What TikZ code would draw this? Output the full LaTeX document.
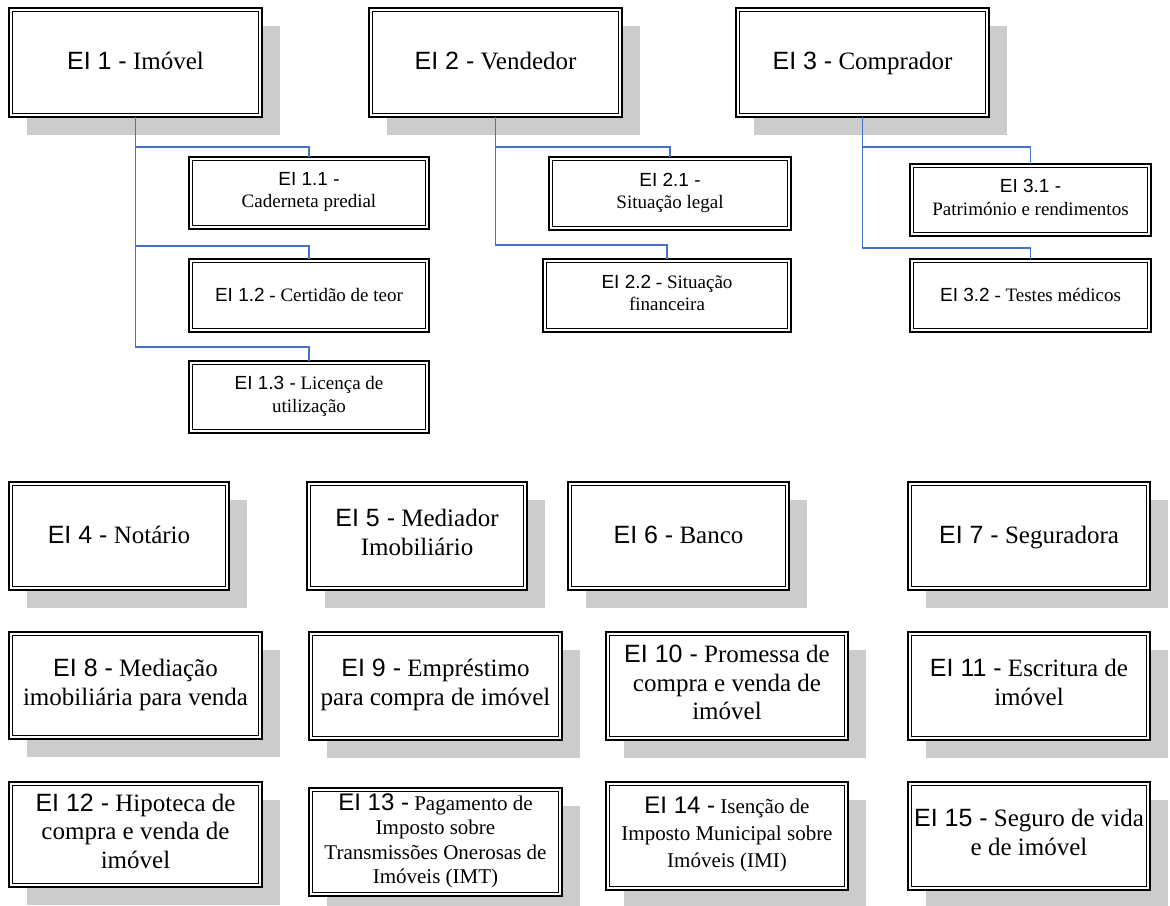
\documentclass[tikz,border=0pt]{standalone}
\usepackage{fontspec}
\setmainfont{Liberation Serif}
\newfontfamily\eisans{Liberation Sans}
\usetikzlibrary{backgrounds}

\definecolor{shadowgray}{RGB}{204,204,204}
\definecolor{linkblue}{RGB}{68,114,196}

% font sizes (1 unit = 1pt)
\newcommand\fbig{\fontsize{25}{29}\selectfont}
\newcommand\fbigthree{\fontsize{25}{28.5}\selectfont}
\newcommand\fmid{\fontsize{21}{27}\selectfont}
\newcommand\fmidtight{\fontsize{21}{24.3}\selectfont}
\newcommand\fsub{\fontsize{19}{22.5}\selectfont}
% sans entity prefix
\newcommand\ei[1]{{\eisans EI #1 -}}
\newcommand\eibig[1]{{\eisans\fontsize{24}{24.3}\selectfont EI #1 -}}
% line strut used at both ends of a box text
\newcommand\boxstrut{\rule[-0.25\baselineskip]{0pt}{\baselineskip}}
% extra depth under a last line, lifting a full text block
\newcommand\liftblock[1]{\rule[-#1]{0pt}{0pt}}

\tikzset{
  entity/.style={draw=black, line width=1.6pt, fill=white, inner sep=0pt,
    outer sep=0pt, align=center,
    execute at begin node=\boxstrut, execute at end node=\boxstrut},
  innerline/.style={draw=black, line width=0.9pt},
  shadowfill/.style={fill=shadowgray},
  link/.style={draw=linkblue, line width=1.1pt},
}

% entity box with thick-thin double border
% #1 name, #2 x1, #3 y1, #4 x2, #5 y2, #6 font, #7 text
\newcommand\entitybox[7]{%
  \node[entity, font=#6, minimum width={(#4-#2)*1pt}, minimum height={(#5-#3)*1pt}]
    (#1) at ({(#2+#4)/2},{(#3+#5)/2}) {#7};
  \draw[innerline] ([shift={(3.5pt,-3.5pt)}]#1.north west)
    rectangle ([shift={(-3.5pt,3.5pt)}]#1.south east);
}
% same box with a drop shadow behind it
\newcommand\shadowbox[7]{%
  \begin{pgfonlayer}{background}
    \fill[shadowfill] (#2+18,#3+17.5) rectangle (#4+18,#5+17.5);
  \end{pgfonlayer}
  \entitybox{#1}{#2}{#3}{#4}{#5}{#6}{#7}%
}

\begin{document}
\begin{tikzpicture}[x=1pt,y=-1pt]
\useasboundingbox (0,0) rectangle (1170,905);
\begin{pgfonlayer}{background}
  \fill[white] (0,0) rectangle (1170,905);
\end{pgfonlayer}

% main entities
\shadowbox{e1}{9}{8}{262}{117}{\fbig}{\ei{1} Imóvel}
\shadowbox{e2}{369}{8}{622}{117}{\fbig}{\ei{2} Vendedor}
\shadowbox{e3}{736}{8}{989}{117}{\fbig}{\ei{3} Comprador}

% sub-entities
\entitybox{e11}{189}{157}{429}{229}{\fsub}{\ei{1.1}\\Caderneta predial}
\entitybox{e12}{189}{259}{429}{332}{\fsub}{{\eisans EI 1.2} - Certidão de teor}
\entitybox{e13}{189}{361}{429}{433}{\fsub}{\ei{1.3} Licença de\\utilização}
\entitybox{e21}{549}{157}{791}{230}{\fsub}{\ei{2.1}\\Situação legal}
\entitybox{e22}{543}{259}{791}{332}{\fsub}{{\eisans EI 2.2} - Situação\\financeira}
\entitybox{e31}{910}{164}{1151}{236}{\fsub}{\ei{3.1}\\Património e rendimentos}
\entitybox{e32}{910}{259}{1151}{332}{\fsub}{{\eisans EI 3.2} - Testes médicos}

% connectors
\draw[link] (e1.south) |- ([yshift=10pt]e11.north) -- (e11.north);
\draw[link] (e1.south) |- ([yshift=13pt]e12.north) -- (e12.north);
\draw[link] (e1.south) |- ([yshift=14pt]e13.north) -- (e13.north);
\draw[link] (e2.south) |- ([yshift=10pt]e21.north) -- (e21.north);
\draw[link] (e2.south) |- ([yshift=14pt]e22.north) -- (e22.north);
\draw[link] (e3.south) |- ([yshift=17pt]e31.north) -- (e31.north);
\draw[link] (e3.south) |- ([yshift=11pt]e32.north) -- (e32.north);

% actors
\shadowbox{e4}{9}{482}{229}{590}{\fbig}{\ei{4} Notário}
\shadowbox{e5}{307}{482}{527}{590}{\fbig}{\ei{5} Mediador\\Imobiliário}
\shadowbox{e6}{568}{482}{789}{590}{\fbig}{\ei{6} Banco}
\shadowbox{e7}{908}{482}{1150}{590}{\fbig}{\ei{7} Seguradora}

% processes
\shadowbox{e8}{9}{632}{262}{739}{\fbig}{\ei{8} Mediação\\imobiliária para venda}
\shadowbox{e9}{309}{632}{562}{740}{\fbig}{\ei{9} Empréstimo\\para compra de imóvel}
\shadowbox{e10}{606}{632}{848}{740}{\fbigthree}{\ei{10} Promessa de\\compra e venda de\\imóvel}
\shadowbox{e11b}{908}{632}{1150}{740}{\fbig}{\ei{11} Escritura de\\imóvel}

\shadowbox{e12b}{9}{782}{262}{887}{\fbigthree}{\ei{12} Hipoteca de\\compra e venda de\\imóvel}
\shadowbox{e13b}{309}{788}{562}{896}{\fmidtight}{\eibig{13} Pagamento de\\Imposto sobre\\Transmissões Onerosas de\\Imóveis (IMT)\liftblock{7pt}}
\shadowbox{e14b}{606}{782}{848}{890}{\fmid}{\eibig{14} Isenção de\\Imposto Municipal sobre\\Imóveis (IMI)}
\shadowbox{e15b}{908}{782}{1150}{890}{\fbig}{\ei{15} Seguro de vida\\e de imóvel}
\end{tikzpicture}
\end{document}
